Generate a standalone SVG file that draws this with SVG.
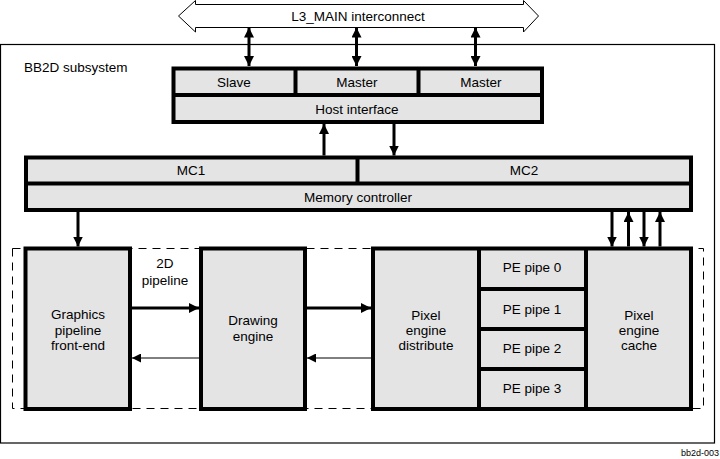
<svg xmlns="http://www.w3.org/2000/svg" width="720" height="459" viewBox="0 0 720 459">
<style>
text{font-family:"Liberation Sans",Arial,sans-serif;font-size:13.5px;fill:#000;text-anchor:middle}
.blk{fill:#e4e4e4;stroke:#000;stroke-width:4}
.div{stroke:#000;stroke-width:4;fill:none}
.thick{stroke:#000;stroke-width:3;fill:none}
.thin{stroke:#000;stroke-width:1;fill:none}
</style>
<defs>
<marker id="ah" markerUnits="userSpaceOnUse" viewBox="0 0 10 10" refX="10" refY="5" markerWidth="10" markerHeight="10" orient="auto-start-reverse"><path d="M0,0 L10,5 L0,10 Z" fill="#000"/></marker>
<marker id="ahs" markerUnits="userSpaceOnUse" viewBox="0 0 10 10" refX="10" refY="5" markerWidth="9" markerHeight="9" orient="auto"><path d="M0,0 L10,5 L0,10 Z" fill="#000"/></marker>
</defs>
<rect x="0" y="0" width="720" height="459" fill="#fff"/>

<g id="interconnect">
<path d="M178.5,16 L195.5,0.5 L195.5,4.5 L523.5,4.5 L523.5,0.5 L538.5,16 L523.5,32 L523.5,27.5 L195.5,27.5 L195.5,32 Z" fill="#fff" stroke="#000" stroke-width="1"/>
<text x="358" y="21">L3_MAIN interconnect</text>
</g>

<g id="bb2d">
<rect x="0.5" y="44.5" width="714" height="398.5" fill="none" stroke="#000" stroke-width="1.2"/>
<text x="24" y="72" style="text-anchor:start">BB2D subsystem</text>
</g>

<g id="pipeline-box">
<rect x="12.5" y="248.5" width="691" height="160" fill="none" stroke="#000" stroke-width="1" stroke-dasharray="8,6"/>
</g>

<g id="host">
<rect class="blk" x="173.5" y="68.5" width="368.5" height="53.5"/>
<line class="div" x1="173.5" y1="95" x2="542" y2="95"/>
<line class="div" x1="295.5" y1="68.5" x2="295.5" y2="95"/>
<line class="div" x1="418.5" y1="68.5" x2="418.5" y2="95"/>
<text x="234" y="87">Slave</text>
<text x="357" y="87">Master</text>
<text x="481" y="87">Master</text>
<text x="357" y="114">Host interface</text>
</g>

<g id="memctrl">
<rect class="blk" x="26" y="157.5" width="665" height="52.5"/>
<line class="div" x1="26" y1="183.5" x2="691" y2="183.5"/>
<line class="div" x1="357.5" y1="157.5" x2="357.5" y2="183.5"/>
<text x="191" y="175">MC1</text>
<text x="524" y="175">MC2</text>
<text x="358" y="202">Memory controller</text>
</g>

<g id="gpfe">
<rect class="blk" x="25.5" y="248.5" width="104.5" height="160.5"/>
<text x="78" y="319">Graphics</text>
<text x="78" y="335">pipeline</text>
<text x="78" y="350">front-end</text>
</g>

<g id="drawing">
<rect class="blk" x="201" y="248.5" width="104" height="160.5"/>
<text x="253" y="325">Drawing</text>
<text x="253" y="341">engine</text>
</g>

<g id="pixel">
<rect class="blk" x="373" y="248.5" width="318" height="160.5"/>
<line class="div" x1="479" y1="248.5" x2="479" y2="409"/>
<line class="div" x1="586" y1="248.5" x2="586" y2="409"/>
<line class="div" x1="479" y1="289" x2="586" y2="289"/>
<line class="div" x1="479" y1="329" x2="586" y2="329"/>
<line class="div" x1="479" y1="369" x2="586" y2="369"/>
<text x="426" y="320">Pixel</text>
<text x="426" y="335">engine</text>
<text x="426" y="350">distribute</text>
<text x="532" y="272">PE pipe 0</text>
<text x="532" y="314">PE pipe 1</text>
<text x="532" y="353">PE pipe 2</text>
<text x="532" y="393">PE pipe 3</text>
<text x="639" y="320">Pixel</text>
<text x="639" y="335">engine</text>
<text x="639" y="350">cache</text>
</g>

<text x="165" y="268">2D</text>
<text x="165" y="285">pipeline</text>

<g id="connectors">
<line class="thick" x1="249" y1="27.5" x2="249" y2="66" marker-start="url(#ah)" marker-end="url(#ah)"/>
<line class="thick" x1="356.5" y1="27.5" x2="356.5" y2="66" marker-start="url(#ah)" marker-end="url(#ah)"/>
<line class="thick" x1="475.5" y1="27.5" x2="475.5" y2="66" marker-start="url(#ah)" marker-end="url(#ah)"/>
<line class="thick" x1="324" y1="155.5" x2="324" y2="124" marker-end="url(#ah)"/>
<line class="thick" x1="394" y1="124" x2="394" y2="155.5" marker-end="url(#ah)"/>
<line class="thick" x1="78" y1="212" x2="78" y2="246.5" marker-end="url(#ah)"/>
<line class="thick" x1="612" y1="212" x2="612" y2="246.5" marker-end="url(#ah)"/>
<line class="thick" x1="628.5" y1="246.5" x2="628.5" y2="212" marker-end="url(#ah)"/>
<line class="thick" x1="644" y1="212" x2="644" y2="246.5" marker-end="url(#ah)"/>
<line class="thick" x1="660" y1="246.5" x2="660" y2="212" marker-end="url(#ah)"/>
<line class="thick" x1="132" y1="308" x2="199" y2="308" marker-end="url(#ah)"/>
<line class="thick" x1="307" y1="308" x2="371" y2="308" marker-end="url(#ah)"/>
<line class="thin" x1="199" y1="358" x2="132" y2="358" marker-end="url(#ahs)"/>
<line class="thin" x1="371" y1="358" x2="307" y2="358" marker-end="url(#ahs)"/>
</g>

<text x="700" y="456" style="font-size:9px">bb2d-003</text>
</svg>
